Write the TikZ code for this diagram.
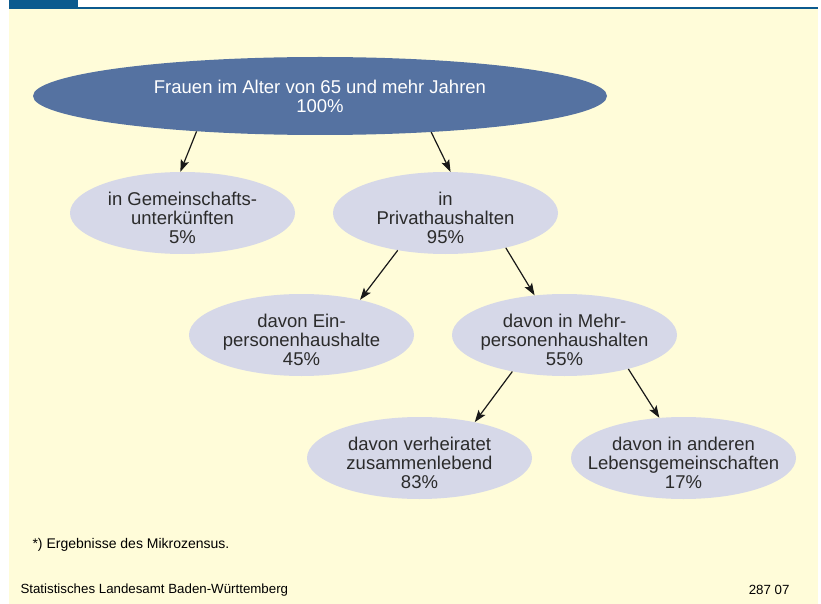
\documentclass[tikz,border=0pt]{standalone}
\usepackage{fontspec}
\setmainfont{Liberation Sans}
\usetikzlibrary{arrows.meta,shapes.geometric}

\definecolor{tabblue}{HTML}{0B5A8E}
\definecolor{paper}{HTML}{FFFCD9}
\definecolor{rootfill}{HTML}{5572A1}
\definecolor{leaffill}{HTML}{D6D8E8}
\definecolor{inktext}{HTML}{2B2B2B}

\begin{document}
\begin{tikzpicture}[x=1pt,y=-1pt,
    blob/.style={ellipse,fill=leaffill,draw=none,minimum width=225pt,minimum height=82pt,inner sep=0pt},
    blobtext/.style={align=center,inner sep=0pt,text=inktext,font=\fontsize{18.5}{19}\selectfont},
    rootblob/.style={blob,fill=rootfill,text=white,minimum width=574pt,minimum height=78pt,
      align=center,font=\fontsize{18.5}{19}\selectfont},
    arr/.style={-{Stealth[length=12pt,width=8.5pt,inset=2.5pt]},line width=1.2pt,black!90}]

    \newcommand*{\rowA}{96}%
    \newcommand*{\rowB}{213}%
    \newcommand*{\rowC}{335}%
    \newcommand*{\rowD}{458}%
    % ellipse plus its text, text sits a bit low
    \newcommand*{\leaf}[4]{%
      \node[blob] (#1) at (#2,#3) {};
      \node[blobtext] (#1txt) at ([yshift=-5pt]#1.center) {#4};}

    % page and header
    \useasboundingbox (0,0) rectangle (821,604);
    \fill[white] (0,0) rectangle (821,604);
    \fill[paper] (9,9.5) rectangle (818,604);
    \fill[tabblue] (9,0) rectangle (78,7);
    \fill[tabblue] (9,6.7) rectangle (818,9.3);

    % tree
    \node[rootblob] (frauen) at (320,\rowA) {Frauen im Alter von 65 und mehr Jahren\\100\%};
    \leaf{gemein}{182.5}{\rowB}{in Gemeinschafts-\\unterkünften\\5\%}
    \leaf{privat}{445.5}{\rowB}{in\\Privathaushalten\\95\%}
    \leaf{einpers}{301.5}{\rowC}{davon Ein-\\personenhaushalte\\45\%}
    \leaf{mehrpers}{564.5}{\rowC}{davon in Mehr-\\personenhaushalten\\55\%}
    \leaf{verh}{419.5}{\rowD}{davon verheiratet\\zusammenlebend\\83\%}
    \leaf{andere}{683.5}{\rowD}{davon in anderen\\Lebensgemeinschaften\\17\%}

    \foreach \from/\a/\to/\b in {frauen/196.3/gemein/93.3, frauen/342.2/privat/83.3,
        privat/218.2/einpers/31.9, privat/330.8/mehrpers/127.7,
        mehrpers/215.4/verh/33.7, mehrpers/332.6/andere/121.6} {
      \draw[arr] (\from.\a) -- (\to.\b);
    }

    % notes
    \node[anchor=west,text=black,font=\fontsize{14}{16}\selectfont] (fussnote) at (29,545) {*) Ergebnisse des Mikrozensus.};
    \node[anchor=west,text=black,font=\fontsize{13.3}{15}\selectfont] (quelle) at (17,590) {Statistisches Landesamt Baden-Württemberg};
    \node[anchor=east,text=black,font=\fontsize{13.3}{15}\selectfont] (nummer) at (793,590) {287 07};
  \end{tikzpicture}
\end{document}
